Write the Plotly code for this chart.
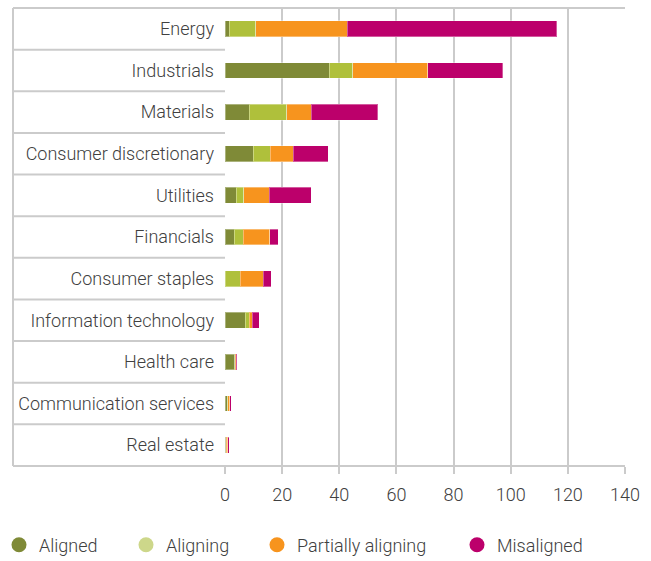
import plotly.graph_objects as go

categories = ["Energy", "Industrials", "Materials", "Consumer discretionary", "Utilities",
              "Financials", "Consumer staples", "Information technology", "Health care",
              "Communication services", "Real estate"]
aligned = [1.5, 36.4, 8.5, 9.9, 3.9, 3.3, 0.0, 7.0, 3.4, 0.7, 0.3]
aligning = [9.2, 8.3, 13.1, 6.0, 2.6, 3.1, 5.4, 1.5, 0.2, 0.3, 0.1]
partially = [32.0, 26.2, 8.6, 7.9, 8.9, 9.2, 7.9, 1.1, 0.3, 0.7, 0.6]
misaligned = [73.4, 26.3, 23.2, 12.4, 14.8, 3.0, 2.8, 2.4, 0.3, 0.4, 0.4]
series_names = ["Aligned", "Aligning", "Partially aligning", "Misaligned"]
bar_colors = ["#7f8a37", "#afc03b", "#f7941e", "#bc006b"]
legend_colors = ["#7f8a37", "#cdd78a", "#f7941e", "#bc006b"]
x_ticks = [0, 20, 40, 60, 80, 100, 120, 140]

FONT = dict(family="Roboto", size=18, color="#404040", weight=300)
GRID = "#cbcbcb"

W, H = 651, 561
ml, mr, mt, mb = 225, 26, 8, 95
pw = W - ml - mr
ph = H - mt - mb
left_px = 13
x_left = (left_px - ml) / pw

# legend marker centres (px) for the four separate legends
legend_marker_px = [20, 147, 278, 478]
legend_y_px = 545

fig = go.Figure()
for name, vals, col in zip(series_names, [aligned, aligning, partially, misaligned], bar_colors):
    fig.add_trace(go.Bar(
        y=categories, x=vals, orientation="h", name=name,
        marker=dict(color=col, line=dict(color="rgba(255,255,255,0.35)", width=1)),
        showlegend=False, hoverinfo="x+y"))

legends = {}
for i, (name, col) in enumerate(zip(series_names, legend_colors)):
    key = "legend" if i == 0 else f"legend{i + 1}"
    fig.add_trace(go.Scatter(x=[None], y=[None], mode="markers", name=name, legend=key,
                             marker=dict(color=col, size=15, symbol="circle")))
    lx = (legend_marker_px[i] - 21 - ml) / pw
    ly = (H - mb - legend_y_px) / ph
    legends[key] = dict(orientation="h", x=lx, xanchor="left", y=ly, yanchor="middle",
                        font=FONT, itemwidth=30, bgcolor="rgba(0,0,0,0)")

shapes = []
for k in range(len(categories) - 1):
    shapes.append(dict(type="line", xref="paper", yref="y", x0=x_left, x1=0,
                       y0=k + 0.5, y1=k + 0.5, line=dict(color=GRID, width=2)))
shapes.append(dict(type="line", xref="paper", yref="paper", x0=x_left, x1=1, y0=1, y1=1,
                   line=dict(color=GRID, width=2)))
shapes.append(dict(type="line", xref="paper", yref="paper", x0=x_left, x1=1, y0=0, y1=0,
                   line=dict(color=GRID, width=2)))
shapes.append(dict(type="line", xref="paper", yref="paper", x0=x_left, x1=x_left, y0=0, y1=1,
                   line=dict(color=GRID, width=2)))

fig.update_layout(
    width=W, height=H,
    margin=dict(l=ml, r=mr, t=mt, b=mb, pad=0, autoexpand=False),
    barmode="stack", bargap=0.62,
    plot_bgcolor="white", paper_bgcolor="white",
    font=FONT,
    shapes=shapes,
    xaxis=dict(range=[0, 140], tickvals=x_ticks, showgrid=True, gridcolor=GRID, gridwidth=2,
               zeroline=False, showline=False, ticks="outside", ticklen=7, tickcolor=GRID,
               tickwidth=2, tickfont=FONT, fixedrange=True, automargin=False,
               ticklabelstandoff=5),
    yaxis=dict(categoryorder="array", categoryarray=categories, autorange="reversed",
               showgrid=False, zeroline=False, showline=False, ticks="", ticklabelstandoff=10,
               tickfont=FONT, fixedrange=True, automargin=False),
    **legends,
)

fig.write_html("out.html", config={"displayModeBar": False},
               post_script="document.body.style.margin='0px';")
